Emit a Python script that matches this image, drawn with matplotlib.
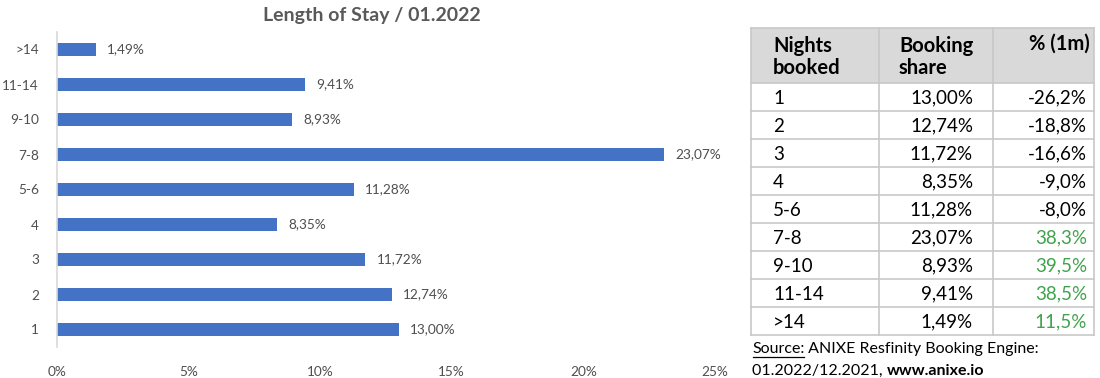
import matplotlib
matplotlib.use("Agg")
import matplotlib.pyplot as plt
from matplotlib.patches import Rectangle

plt.rcParams["font.family"] = ["Lato", "DejaVu Sans"]

BLUE = "#4472C4"
GREY_TXT = "#595959"
GREEN = "#3FA34D"
LINE = "#C8C8C8"

# ---- data
categories = ["1", "2", "3", "4", "5-6", "7-8", "9-10", "11-14", ">14"]
share = [13.00, 12.74, 11.72, 8.35, 11.28, 23.07, 8.93, 9.41, 1.49]
change_1m = [-26.2, -18.8, -16.6, -9.0, -8.0, 38.3, 39.5, 38.5, 11.5]
x_ticks = [0, 5, 10, 15, 20, 25]


def de(v, nd):
    return f"{v:.{nd}f}".replace(".", ",")


fig = plt.figure(figsize=(11, 3.78), dpi=100)

# ---- bar chart
W, H = 1100, 378
ax = fig.add_axes([57 / W, 1 - 347 / H, (715 - 57) / W, (347 - 32) / H])
y = list(range(len(categories)))
ax.barh(y, share, height=0.37, color=BLUE)
for yi, v in zip(y, share):
    ax.annotate(de(v, 2) + "%", (v, yi), xytext=(8, 0), textcoords="offset points",
                va="center", ha="left", fontsize=9.8, color="#4F4F4F")
ax.set_xlim(0, 25)
ax.set_ylim(-0.5, len(categories) - 0.5)
ax.set_yticks(y)
ax.set_yticklabels(categories)
ax.set_xticks(x_ticks)
ax.set_xticklabels([f"{t}%" for t in x_ticks])
ax.tick_params(axis="both", length=0, labelsize=9.8, colors="#4F4F4F")
ax.tick_params(axis="y", pad=13)
ax.tick_params(axis="x", pad=14)
for s in ["top", "right", "bottom"]:
    ax.spines[s].set_visible(False)
ax.spines["left"].set_color("#D9D9D9")
ax.spines["left"].set_linewidth(1.2)
fig.text(372 / W, 1 - 16 / H, "Length of Stay / 01.2022", ha="center", va="center",
         fontsize=14, fontweight="bold", color=GREY_TXT)

# ---- table (pixel coordinates)
tx = fig.add_axes([0, 0, 1, 1])
tx.set_xlim(0, W)
tx.set_ylim(H, 0)
tx.axis("off")
tx.patch.set_alpha(0)

left, c1, c2, right = 751, 879, 993, 1094
top, head_bot, row_h = 28, 83, 28
n = len(categories)
bottom = head_bot + n * row_h
tx.add_patch(Rectangle((left, top), right - left, head_bot - top, fc="#D9D9D9", ec="none"))
for yy in [top, head_bot] + [head_bot + (i + 1) * row_h for i in range(n)]:
    tx.plot([left, right], [yy, yy], color=LINE, lw=1.2)
for xx in [left, c1, c2, right]:
    tx.plot([xx, xx], [top, bottom], color=LINE, lw=1.2)

hs, fs = 14.5, 13.5
tx.text(773, 57, "Nights\nbooked", ha="left", va="center", fontsize=hs,
        fontweight="bold", linespacing=1.15)
tx.text(899, 57, "Booking\nshare", ha="left", va="center", fontsize=hs,
        fontweight="bold", linespacing=1.15)
tx.text(1090, 44, "% (1m)", ha="right", va="center", fontsize=hs, fontweight="bold")

rows = list(zip(categories, share, change_1m))
for i, (cat, v, ch) in enumerate(rows):
    yc = head_bot + i * row_h + row_h / 2 + 1
    tx.text(773, yc, cat, ha="left", va="center", fontsize=fs)
    tx.text(973, yc, de(v, 2) + "%", ha="right", va="center", fontsize=fs)
    tx.text(1087, yc, de(ch, 1) + "%", ha="right", va="center", fontsize=fs,
            color=GREEN if ch > 0 else "black")

ss = 11.5
src = tx.text(752, 349, "Source:", ha="left", va="center", fontsize=ss)
tx.annotate(" ANIXE Resfinity Booking Engine:", xycoords=src, xy=(1, 0.5),
            va="center", ha="left", fontsize=ss)
t = tx.text(752, 371, "01.2022/12.2021, ", ha="left", va="center", fontsize=ss)
tx.annotate("www.anixe.io", xycoords=t, xy=(1, 0.5), va="center", ha="left",
            fontsize=ss, fontweight="bold")

# underline "Source:"
fig.canvas.draw()
bb = src.get_window_extent().transformed(tx.transData.inverted())
tx.plot([bb.x0 + 1, bb.x1], [357, 357], color="black", lw=0.9)

fig.savefig("out.png", dpi=100, facecolor="white")
